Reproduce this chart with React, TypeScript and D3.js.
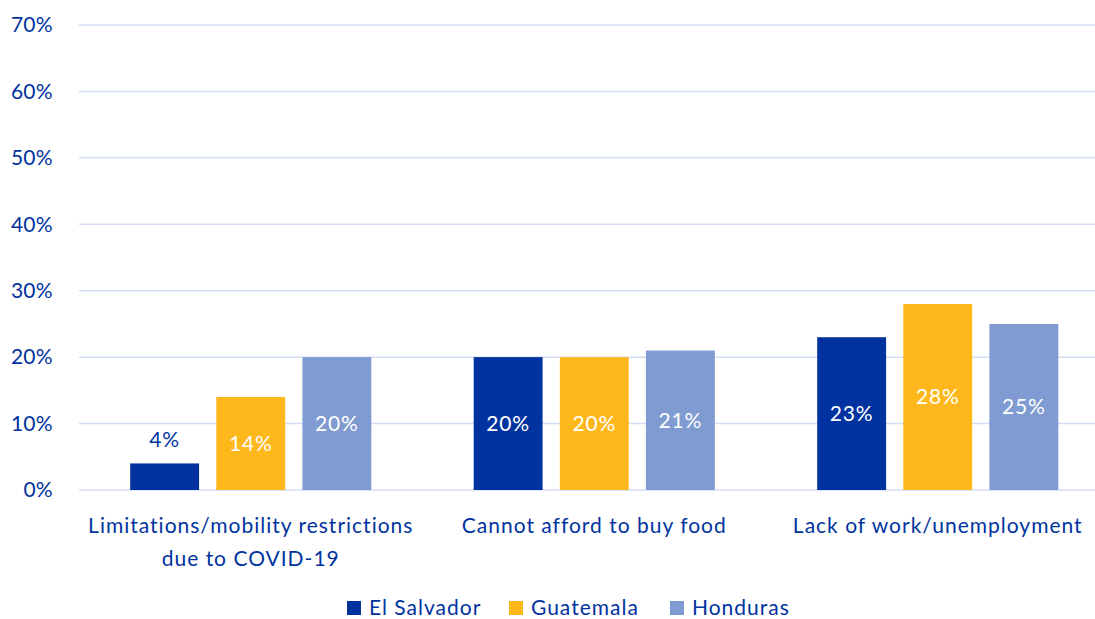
import React from "react";
import * as d3 from "d3";

const categories = [
  ["Limitations/mobility restrictions", "due to COVID-19"],
  ["Cannot afford to buy food"],
  ["Lack of work/unemployment"],
];
const seriesNames = ["El Salvador", "Guatemala", "Honduras"];
const elSalvador = [4, 20, 23];
const guatemala = [14, 20, 28];
const honduras = [20, 21, 25];
const yTicks = [0, 10, 20, 30, 40, 50, 60, 70];
const colors = ["#0033a0", "#ffb81c", "#7f9bd1"];

const W = 1095;
const H = 619;
const textColor = "#0033a0";
const font = "Lato, 'Open Sans', sans-serif";

export default function App() {
  const values = [elSalvador, guatemala, honduras];
  const y = d3.scaleLinear().domain([0, 70]).range([490, 25]);
  const x0 = d3
    .scaleBand<number>()
    .domain(categories.map((_, i) => i))
    .range([79, 1109.5])
    .paddingInner(0.298)
    .paddingOuter(0.149);
  const x1 = d3
    .scaleBand<number>()
    .domain(seriesNames.map((_, i) => i))
    .range([0, x0.bandwidth()])
    .paddingInner(0.2)
    .paddingOuter(0);

  const legendX = [347, 509, 670];

  return (
    <svg
      width={W}
      height={H}
      style={{ position: "absolute", left: 0, top: 0, background: "#fff" }}
      fontFamily={font}
    >
      {yTicks.map((t) => (
        <g key={t}>
          <line x1={79} x2={W} y1={y(t)} y2={y(t)} stroke="#d3ddf7" strokeWidth={1.5} />
          <text x={53} y={y(t)} dy="0.35em" textAnchor="end" fontSize={21} letterSpacing={0.3} fill={textColor}>
            {t}%
          </text>
        </g>
      ))}
      {categories.map((cat, ci) => (
        <g key={ci} transform={`translate(${x0(ci)},0)`}>
          {values.map((vals, si) => {
            const v = vals[ci];
            const bx = x1(si)!;
            const bw = x1.bandwidth();
            const top = y(v);
            const h = y(0) - top;
            const inside = h > 40;
            return (
              <g key={si}>
                <rect x={bx} y={top} width={bw} height={h} fill={colors[si]} />
                <text
                  x={bx + bw / 2}
                  y={inside ? top + h / 2 : top - 24}
                  dy="0.35em"
                  textAnchor="middle"
                  fontSize={21}
                  letterSpacing={0.8}
                  fill={inside ? "#fff" : textColor}
                >
                  {v}%
                </text>
              </g>
            );
          })}
          {cat.map((line, li) => (
            <text
              key={li}
              x={x0.bandwidth() / 2}
              y={533 + li * 33}
              textAnchor="middle"
              fontSize={21}
              letterSpacing={1}
              fill={textColor}
            >
              {line}
            </text>
          ))}
        </g>
      ))}
      {seriesNames.map((n, i) => (
        <g key={n}>
          <rect x={legendX[i]} y={601} width={14} height={14} fill={colors[i]} />
          <text x={legendX[i] + 22} y={615} fontSize={21} letterSpacing={1} fill={textColor}>
            {n}
          </text>
        </g>
      ))}
    </svg>
  );
}
